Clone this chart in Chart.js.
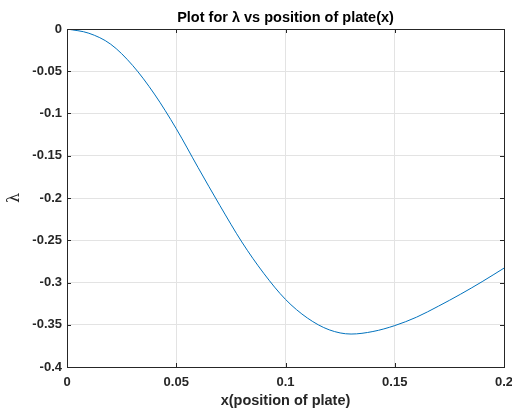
<!DOCTYPE html>
<html>
<head>
<meta charset="utf-8">
<script src="https://cdn.jsdelivr.net/npm/chart.js@4.4.0/dist/chart.umd.min.js"></script>
<style>
  html, body { margin: 0; padding: 0; background: #fff; }
  #wrap { width: 512px; height: 410px; }
</style>
</head>
<body>
<div id="wrap"><canvas id="lambdaChart"></canvas></div>
<script>
// values
const positions = [0, 0.01, 0.02, 0.03, 0.04, 0.05, 0.06, 0.07, 0.08, 0.09, 0.10,
                   0.11, 0.12, 0.13, 0.14, 0.15, 0.16, 0.17, 0.18, 0.19, 0.20];
const lambdaValues = [0, -0.005, -0.018, -0.043, -0.077, -0.118, -0.164, -0.209, -0.252, -0.289, -0.320,
                      -0.342, -0.356, -0.361, -0.358, -0.351, -0.341, -0.328, -0.314, -0.299, -0.283];
const xTickLabels = ["0", "0.05", "0.1", "0.15", "0.2"];
const yTickLabels = ["-0.4", "-0.35", "-0.3", "-0.25", "-0.2", "-0.15", "-0.1", "-0.05", "0"];

const points = positions.map((x, i) => ({ x: x, y: lambdaValues[i] }));

const PLOT = { left: 67, right: 504, top: 29, bottom: 367 };
const FONT = "'Liberation Sans', Arial, sans-serif";

const frame = {
    id: "frame",
    afterDatasetsDraw(chart) {
        const a = chart.chartArea;
        const ctx = chart.ctx;
        ctx.save();
        ctx.strokeStyle = "#262626";
        ctx.lineWidth = 1;
        ctx.strokeRect(Math.round(a.left) + 0.5, Math.round(a.top) + 0.5,
                       Math.round(a.right - a.left), Math.round(a.bottom - a.top));
        // inward ticks like matlab
        const xs = chart.scales.x, ys = chart.scales.y;
        ctx.beginPath();
        xs.ticks.forEach(t => {
            const px = Math.round(xs.getPixelForValue(t.value)) + 0.5;
            ctx.moveTo(px, a.bottom); ctx.lineTo(px, a.bottom - 4);
            ctx.moveTo(px, a.top); ctx.lineTo(px, a.top + 4);
        });
        ys.ticks.forEach(t => {
            const py = Math.round(ys.getPixelForValue(t.value)) + 0.5;
            ctx.moveTo(a.left, py); ctx.lineTo(a.left + 4, py);
            ctx.moveTo(a.right, py); ctx.lineTo(a.right - 4, py);
        });
        ctx.stroke();
        // title, centred over the axes
        ctx.fillStyle = "#000";
        ctx.font = "bold 14.5px " + FONT;
        ctx.textAlign = "center";
        ctx.textBaseline = "middle";
        ctx.fillText("Plot for λ vs position of plate(x)", (a.left + a.right) / 2, 18);
        ctx.restore();
    }
};

const config = {
    type: "line",
    data: {
        datasets: [
            {
                label: "lambda",
                data: points,
                borderColor: "#0072BD",
                borderWidth: 1,
                pointRadius: 0,
                cubicInterpolationMode: "monotone",
                fill: false,
            },
        ],
    },
    options: {
        responsive: true,
        maintainAspectRatio: false,
        animation: false,
        layout: {
            padding: { left: 0, right: 512 - PLOT.right, top: PLOT.top, bottom: 0 }
        },
        plugins: {
            legend: { display: false },
            title: { display: false },
            tooltip: { enabled: false },
        },
        scales: {
            x: {
                type: "linear",
                min: 0,
                max: 0.2,
                afterBuildTicks(scale) {
                    scale.ticks = xTickLabels.map(s => ({ value: parseFloat(s) }));
                },
                afterFit(scale) {
                    scale.height = 410 - PLOT.bottom;
                    scale.paddingLeft = 0;
                    scale.paddingRight = 0;
                },
                ticks: {
                    callback: (v, i) => xTickLabels[i],
                    color: "#262626",
                    font: { family: FONT, size: 13, weight: "bold" },
                    padding: 8,
                    maxRotation: 0,
                },
                grid: { color: "#e3e3e3", drawTicks: false },
                border: { display: false },
                title: {
                    display: true,
                    text: "x(position of plate)",
                    color: "#262626",
                    font: { family: FONT, size: 14.5, weight: "bold" },
                    padding: { top: 0, bottom: 0 },
                },
            },
            y: {
                type: "linear",
                min: -0.4,
                max: 0,
                afterBuildTicks(scale) {
                    scale.ticks = yTickLabels.map(s => ({ value: parseFloat(s) }));
                },
                afterFit(scale) { scale.width = PLOT.left; },
                ticks: {
                    callback: (v, i) => yTickLabels[i],
                    color: "#262626",
                    font: { family: FONT, size: 13, weight: "bold" },
                    padding: 5,
                },
                grid: { color: "#e3e3e3", drawTicks: false },
                border: { display: false },
                title: {
                    display: true,
                    text: "λ",
                    color: "#262626",
                    font: { family: "'DejaVu Serif', serif", size: 16 },
                    padding: { top: 5, bottom: 2 },
                },
            },
        },
    },
    plugins: [frame],
};

new Chart(document.getElementById("lambdaChart"), config);
</script>
</body>
</html>
